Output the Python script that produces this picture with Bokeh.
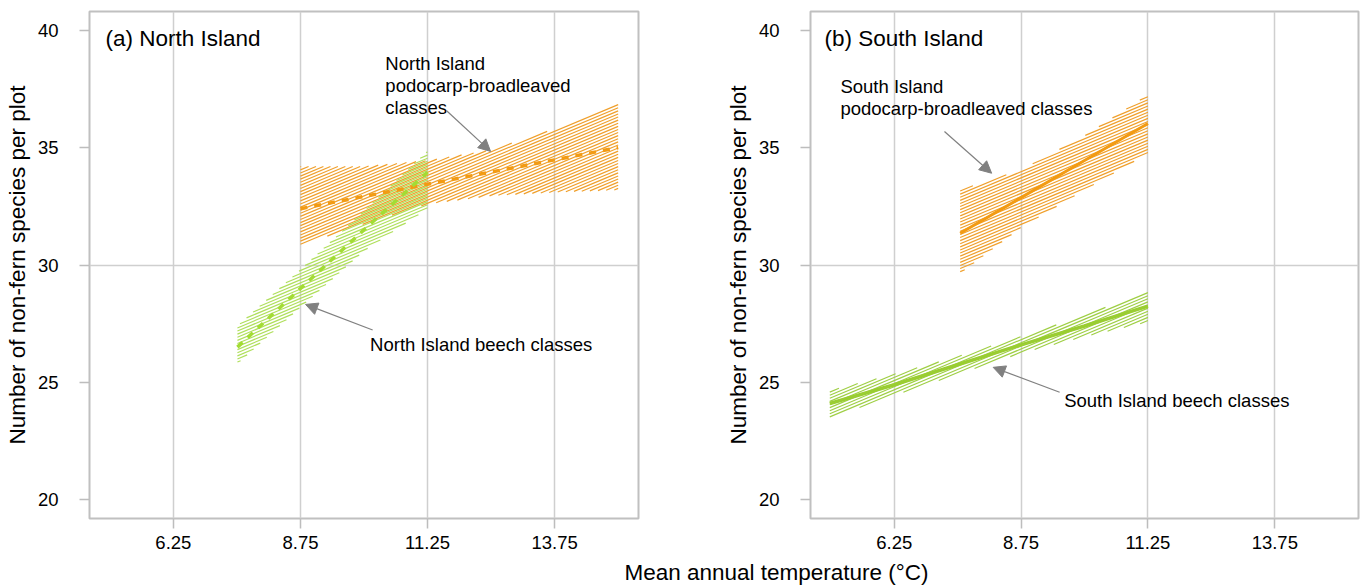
import numpy as np
from bokeh.plotting import figure
from bokeh.layouts import column, row
from bokeh.models import Range1d, FixedTicker, Label, Arrow, NormalHead
from bokeh.embed import file_html
from bokeh.resources import INLINE

# ---------------- data ----------------
temp_ticks = [6.25, 8.75, 11.25, 13.75]
species_ticks = [20, 25, 30, 35, 40]

# (a) North Island podocarp-broadleaved
ni_pod_x = [8.75, 10.0, 11.25, 12.5, 13.75, 15.0]
ni_pod_fit = [32.4, 32.92, 33.44, 33.96, 34.48, 35.0]
ni_pod_lo = [30.85, 31.75, 32.6, 32.95, 33.1, 33.2]
ni_pod_hi = [34.2, 34.2, 34.45, 34.9, 35.8, 36.85]

# (a) North Island beech
ni_beech_x = [7.51, 8.75, 10.0, 11.25]
ni_beech_fit = [26.5, 29.0, 31.5, 33.95]
ni_beech_lo = [25.8, 28.2, 30.6, 32.4]
ni_beech_hi = [27.4, 29.8, 32.3, 34.85]

# (b) South Island podocarp-broadleaved
si_pod_x = [7.55, 8.75, 10.0, 11.25]
si_pod_fit = [31.35, 32.87, 34.45, 36.03]
si_pod_lo = [29.65, 31.6, 33.2, 34.75]
si_pod_hi = [33.2, 34.05, 35.5, 37.25]

# (b) South Island beech
si_beech_x = [4.98, 6.25, 7.5, 8.75, 10.0, 11.25]
si_beech_fit = [24.1, 24.9, 25.75, 26.6, 27.4, 28.25]
si_beech_lo = [23.48, 24.45, 25.35, 26.25, 26.95, 27.57]
si_beech_hi = [24.65, 25.35, 26.1, 26.95, 27.85, 28.9]

# ---------------- style ----------------
FONT = "Liberation Sans"
X_RANGE = (4.6, 15.4)
Y_RANGE = (19.2, 40.8)
FRAME_H = 507
ORANGE = "#f29b14"
ORANGE_H = "#f0a02c"
GREEN_A = "#a3dc34"
GREEN_A_H = "#b0df5c"
GREEN_B = "#9acd32"
GREEN_B_H = "#9fcf44"
GREY = "#808080"
DY = 0.3  # label baseline correction (data units)


def hatch_segments(xs, lo, hi, frame_w, slope_px=0.42, gap_px=3.1, n=900):
    """Hatch lines (shallow diagonal) clipped to the band between lo and hi."""
    px_x = frame_w / (X_RANGE[1] - X_RANGE[0])
    px_y = FRAME_H / (Y_RANGE[1] - Y_RANGE[0])
    k = slope_px * px_x / px_y
    step = gap_px / px_y
    xs = np.asarray(xs, float)
    xx = np.linspace(xs[0], xs[-1], n)
    lo_i = np.interp(xx, xs, lo)
    hi_i = np.interp(xx, xs, hi)
    cmin = (lo_i - k * xx).min()
    cmax = (hi_i - k * xx).max()
    sx, sy = [], []
    for c in np.arange(cmin + step / 2, cmax, step):
        yy = c + k * xx
        inside = (yy >= lo_i) & (yy <= hi_i)
        idx = np.flatnonzero(inside)
        if idx.size == 0:
            continue
        breaks = np.flatnonzero(np.diff(idx) > 1)
        starts = np.concatenate([[idx[0]], idx[breaks + 1]])
        ends = np.concatenate([idx[breaks], [idx[-1]]])
        for s, e in zip(starts, ends):
            if e > s:
                sx.append([xx[s], xx[e]])
                sy.append([yy[s], yy[e]])
    return sx, sy


def make_panel(frame_w, border_right):
    p = figure(frame_width=frame_w, frame_height=FRAME_H,
               x_range=Range1d(*X_RANGE), y_range=Range1d(*Y_RANGE),
               output_backend="svg", toolbar_location=None,
               min_border_left=89, min_border_right=border_right,
               min_border_top=11, min_border_bottom=40,
               background_fill_color="white", border_fill_color="white")
    p.xaxis.ticker = FixedTicker(ticks=temp_ticks)
    p.yaxis.ticker = FixedTicker(ticks=species_ticks)
    p.xgrid.ticker = FixedTicker(ticks=temp_ticks)
    p.ygrid.ticker = FixedTicker(ticks=[30])
    p.grid.grid_line_color = "#cfcfcf"
    p.grid.grid_line_width = 1.5
    p.outline_line_color = "#c0c0c0"
    p.outline_line_width = 2
    p.axis.axis_line_color = None
    p.axis.major_tick_line_color = "#bdbdbd"
    p.axis.major_tick_line_width = 1.5
    p.axis.major_tick_in = 0
    p.axis.major_tick_out = 10
    p.axis.minor_tick_line_color = None
    p.axis.major_label_text_font = FONT
    p.axis.major_label_text_font_size = "18.5px"
    p.axis.major_label_text_color = "black"
    p.xaxis.major_label_standoff = 7
    p.yaxis.major_label_standoff = 21
    p.yaxis.axis_label = "Number of non-fern species per plot"
    p.yaxis.axis_label_text_font = FONT
    p.yaxis.axis_label_text_font_size = "22.5px"
    p.yaxis.axis_label_text_font_style = "normal"
    p.yaxis.axis_label_text_color = "black"
    p.yaxis.axis_label_standoff = 5
    return p


def add_band(p, frame_w, xs, lo, hi, color):
    hx, hy = hatch_segments(xs, lo, hi, frame_w)
    p.multi_line(hx, hy, line_color=color, line_width=1.2)


def add_label(p, x, y, text, size="18.5px"):
    p.add_layout(Label(x=x, y=y + DY, text=text, text_font=FONT, text_font_size=size,
                       text_color="black", text_align="left",
                       text_baseline="alphabetic"))


def add_arrow(p, x0, y0, x1, y1):
    p.add_layout(Arrow(end=NormalHead(size=12, fill_color=GREY, line_color=GREY),
                       x_start=x0, y_start=y0, x_end=x1, y_end=y1,
                       line_color=GREY, line_width=1.2))


# ---------------- panel (a) ----------------
WA = 549
pa = make_panel(WA, 83)
add_band(pa, WA, ni_pod_x, ni_pod_lo, ni_pod_hi, ORANGE_H)
add_band(pa, WA, ni_beech_x, ni_beech_lo, ni_beech_hi, GREEN_A_H)
pa.line(ni_pod_x, ni_pod_fit, line_color=ORANGE, line_width=3.5, line_dash="7 7")
pa.line(ni_beech_x, ni_beech_fit, line_color=GREEN_A, line_width=3.5, line_dash="7 7")
add_label(pa, 4.915, 39.35, "(a) North Island", "22.5px")
add_label(pa, 10.42, 38.29, "North Island")
add_label(pa, 10.42, 37.35, "podocarp-broadleaved")
add_label(pa, 10.42, 36.41, "classes")
add_arrow(pa, 11.62, 36.58, 12.49, 34.84)
add_label(pa, 10.12, 26.33, "North Island beech classes")
add_arrow(pa, 10.17, 27.23, 8.85, 28.32)

# ---------------- panel (b) ----------------
WB = 548
pb = make_panel(WB, 7)
add_band(pb, WB, si_pod_x, si_pod_lo, si_pod_hi, ORANGE_H)
add_band(pb, WB, si_beech_x, si_beech_lo, si_beech_hi, GREEN_B_H)
pb.line(si_pod_x, si_pod_fit, line_color=ORANGE, line_width=3)
pb.line(si_beech_x, si_beech_fit, line_color=GREEN_B, line_width=3.5)
add_label(pb, 4.876, 39.35, "(b) South Island", "22.5px")
add_label(pb, 5.19, 37.32, "South Island")
add_label(pb, 5.19, 36.37, "podocarp-broadleaved classes")
add_arrow(pb, 7.24, 35.69, 8.17, 33.91)
add_label(pb, 9.6, 23.93, "South Island beech classes")
add_arrow(pb, 9.51, 24.58, 8.2, 25.64)

# ---------------- shared x-axis title ----------------
TW, TH = 1365, 27
pt = figure(frame_width=TW, frame_height=TH, x_range=Range1d(0, TW), y_range=Range1d(0, TH),
            output_backend="svg", toolbar_location=None,
            x_axis_location=None, y_axis_location=None, min_border=0,
            background_fill_color="white", border_fill_color="white")
pt.grid.visible = False
pt.outline_line_color = None
pt.add_layout(Label(x=776, y=13.5, text="Mean annual temperature (°C)", text_font=FONT,
                    text_font_size="22.5px", text_color="black", text_align="center",
                    text_baseline="alphabetic"))

layout = column(row(pa, pb, spacing=0), pt, spacing=0)
open("out.html", "w").write(file_html(layout, INLINE))
